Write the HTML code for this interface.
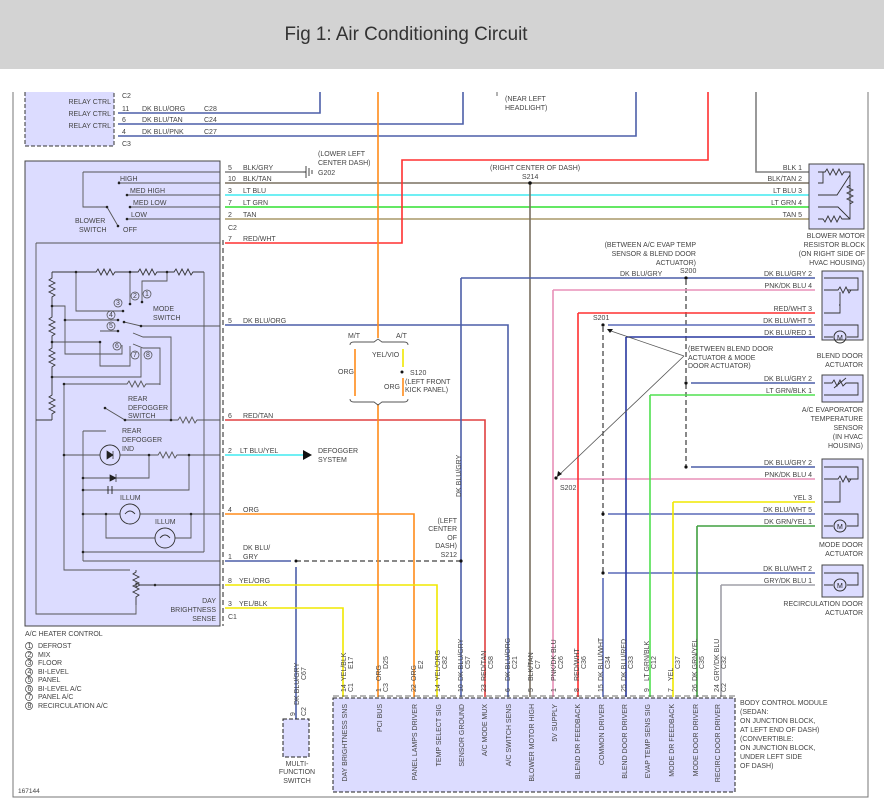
<!DOCTYPE html>
<html><head><meta charset="utf-8"><style>
html,body{margin:0;padding:0;background:#fff}
svg{display:block}
text{font-family:"Liberation Sans",sans-serif;font-size:7px;fill:#444}
.w{fill:none;stroke-width:1.6}
.g{fill:none;stroke:#555;stroke-width:0.9}
.k{fill:none;stroke:#333;stroke-width:0.9}
</style></head><body>
<svg width="884" height="812" viewBox="0 0 884 812" xmlns="http://www.w3.org/2000/svg">
<rect x="0" y="0" width="884" height="69" fill="#d3d3d3"/>
<text x="406" y="40" text-anchor="middle" style="font-size:19px;fill:#333" textLength="243" lengthAdjust="spacingAndGlyphs">Fig 1: Air Conditioning Circuit</text>
<!-- frame -->
<path d="M13,92 V797 H868 V92" fill="none" stroke="#777" stroke-width="1"/>

<!-- relay box -->
<path d="M25,92 V146 H114 V92" fill="#dcdcff" stroke="#333" stroke-dasharray="4,2"/>
<text x="111" y="104" text-anchor="end">RELAY CTRL</text>
<text x="111" y="116" text-anchor="end">RELAY CTRL</text>
<text x="111" y="128" text-anchor="end">RELAY CTRL</text>
<text x="122" y="98">C2</text><text x="122" y="146">C3</text>
<path class="w" stroke="#4c5fa8" d="M118,113 H320 V92"/>
<path class="w" stroke="#4c5fa8" d="M118,124 H463 V92"/>
<path class="w" stroke="#4c5fa8" d="M118,136 H636 V92"/>
<text x="122" y="111">11</text><text x="142" y="111">DK BLU/ORG</text><text x="204" y="111">C28</text>
<text x="122" y="122">6</text><text x="142" y="122">DK BLU/TAN</text><text x="204" y="122">C24</text>
<text x="122" y="134">4</text><text x="142" y="134">DK BLU/PNK</text><text x="204" y="134">C27</text>
<path class="g" d="M497,92 V96"/>
<text x="505" y="101">(NEAR LEFT</text><text x="505" y="110">HEADLIGHT)</text>

<!-- A/C heater control box -->
<rect x="25" y="161" width="195" height="465" fill="#dcdcff" stroke="#444" stroke-width="1"/>
<path d="M223,240 V626" stroke="#222" stroke-dasharray="5,3" fill="none"/>

<!-- top wires to right -->
<path class="w" stroke="#808080" d="M225,172 H303"/>
<path class="k" d="M306,166 V178 M309,168 V176 M312,170 V174 M303,172 H306"/>
<text x="318" y="156">(LOWER LEFT</text><text x="318" y="165">CENTER DASH)</text><text x="318" y="175">G202</text>
<path class="w" stroke="#7a7060" d="M225,183 H815"/>
<path class="w" stroke="#40eaf0" d="M225,195 H815"/>
<path class="w" stroke="#30e030" d="M225,207 H815"/>
<path class="w" stroke="#a89868" d="M225,219 H815"/>
<path class="w" stroke="#ff3030" d="M225,243 H402 V160 H708 V92"/>
<path class="w" stroke="#808080" d="M756,92 V172 H815"/>
<text x="228" y="170">5</text><text x="243" y="170">BLK/GRY</text>
<text x="228" y="181">10</text><text x="243" y="181">BLK/TAN</text>
<text x="228" y="193">3</text><text x="243" y="193">LT BLU</text>
<text x="228" y="205">7</text><text x="243" y="205">LT GRN</text>
<text x="228" y="217">2</text><text x="243" y="217">TAN</text>
<text x="228" y="230">C2</text>
<text x="228" y="241">7</text><text x="243" y="241">RED/WHT</text>
<text x="490" y="170">(RIGHT CENTER OF DASH)</text>
<text x="522" y="179">S214</text>
<path class="w" stroke="#7a7060" d="M530,183 V697"/><circle cx="530" cy="183" r="1.8" fill="#111"/>

<!-- blower resistor -->
<rect x="809" y="164" width="55" height="65" fill="#dcdcff" stroke="#444"/>
<text x="802" y="170" text-anchor="end">BLK  1</text>
<text x="802" y="181" text-anchor="end">BLK/TAN  2</text>
<text x="802" y="193" text-anchor="end">LT BLU  3</text>
<text x="802" y="205" text-anchor="end">LT GRN  4</text>
<text x="802" y="217" text-anchor="end">TAN  5</text>
<path class="k" d="M818,172 H825 l2,-3 l3,6 l3,-6 l3,6 l3,-6 l3,6 l2,-3 H850 V219 H842 l-2,-3 l-3,6 l-3,-6 l-3,6 l-3,-6 l-3,6 l-2,-3 H818 M818,183 H823 V172 M850,175 L837,195 H818 M818,207 H838 L850,219 M850,185 l-3,2 l6,3 l-6,3 l6,3 l-6,3 l6,3 l-3,2"/>
<text x="865" y="238" text-anchor="end">BLOWER MOTOR</text>
<text x="865" y="247" text-anchor="end">RESISTOR BLOCK</text>
<text x="865" y="256" text-anchor="end">(ON RIGHT SIDE OF</text>
<text x="865" y="265" text-anchor="end">HVAC HOUSING)</text>

<!-- blower switch internals -->
<path class="g" d="M83,172 H220 M83,172 V207 H107 L118,226 M119,183 V181 M119,183 H220 M127,195 H220 M130,207 H220 M127,219 H220"/>
<circle cx="119" cy="183" r="1.3" fill="#222"/><circle cx="127" cy="195" r="1.3" fill="#222"/><circle cx="130" cy="207" r="1.3" fill="#222"/><circle cx="127" cy="219" r="1.3" fill="#222"/><circle cx="107" cy="207" r="1.3" fill="#222"/><circle cx="118" cy="226" r="1.3" fill="#222"/>
<text x="120" y="181">HIGH</text><text x="130" y="193">MED HIGH</text><text x="133" y="205">MED LOW</text><text x="131" y="217">LOW</text>
<text x="75" y="223">BLOWER</text><text x="79" y="232">SWITCH</text><text x="123" y="232">OFF</text>
<path class="g" d="M36,243 H220 M36,243 V614 H136 V605"/>

<!-- mode switch internals -->
<path class="k" d="M52,272 H96 l2,-3 l3,6 l3,-6 l3,6 l3,-6 l3,6 l2,-3 H138 l2,-3 l3,6 l3,-6 l3,6 l3,-6 l3,6 l2,-3 H174 l2,-3 l3,6 l3,-6 l3,6 l3,-6 l3,6 l2,-3 H204"/>
<path class="g" d="M204,272 V552 M76,272 V311 H123 M130,272 V304 M142,302 V281 H167 V272"/>
<path class="k" d="M52,272 V278 l-3,2 l6,3 l-6,3 l6,3 l-6,3 l6,3 l-3,2 V317 l-3,2 l6,3 l-6,3 l6,3 l-6,3 l6,3 l-3,2 V348 l-3,2 l6,3 l-6,3 l6,3 l-6,3 l6,3 l-3,2 V395 l-3,2 l6,3 l-6,3 l6,3 l-6,3 l6,3 l-3,2 V420 M52,420 H36"/>
<path class="g" d="M52,306 H65 V354 H122 V345 M65,320 H118 M124,322 L141,326 H220 M52,342 H100 V366 H130 V346 M100,331 H118 M133,333 L143,337 H171 V420 M133,344 L143,348 H160 V385 M52,377 H141 V348 M64,384 H127 l2,-3 l3,6 l3,-6 l3,6 l3,-6 l3,6 l2,-3 H160 M64,384 V570 H130"/>
<g fill="#222"><circle cx="76" cy="272" r="1.3"/><circle cx="130" cy="272" r="1.3"/><circle cx="167" cy="272" r="1.3"/><circle cx="52" cy="306" r="1.3"/><circle cx="52" cy="342" r="1.3"/><circle cx="52" cy="377" r="1.3"/><circle cx="65" cy="320" r="1.3"/><circle cx="124" cy="322" r="1.3"/><circle cx="141" cy="326" r="1.3"/><circle cx="130" cy="304" r="1.3"/><circle cx="142" cy="302" r="1.3"/><circle cx="123" cy="311" r="1.3"/><circle cx="118" cy="320" r="1.3"/><circle cx="118" cy="331" r="1.3"/><circle cx="100" cy="342" r="1.3"/><circle cx="64" cy="384" r="1.3"/></g>
<g fill="none" stroke="#444" stroke-width="0.7"><circle cx="135" cy="296" r="4"/><circle cx="147" cy="294" r="4"/><circle cx="118" cy="303" r="4"/><circle cx="111" cy="315" r="4"/><circle cx="111" cy="326" r="4"/><circle cx="117" cy="346" r="4"/><circle cx="135" cy="355" r="4"/><circle cx="148" cy="355" r="4"/></g>
<g style="font-size:6px"><text x="133" y="298">2</text><text x="145" y="296">1</text><text x="116" y="305">3</text><text x="109" y="317">4</text><text x="109" y="328">5</text><text x="115" y="348">6</text><text x="133" y="357">7</text><text x="146" y="357">8</text></g>
<text x="153" y="311">MODE</text><text x="153" y="320">SWITCH</text>
<text x="228" y="323">5</text><text x="243" y="323">DK BLU/ORG</text>
<path class="w" stroke="#4c5fa8" d="M225,325 H508 V697"/>

<!-- rear defogger -->
<path class="g" d="M105,408 L125,420 H178 l2,-3 l3,6 l3,-6 l3,6 l3,-6 l3,6 l2,-3 H220"/>
<circle cx="105" cy="408" r="1.3" fill="#222"/><circle cx="125" cy="420" r="1.3" fill="#222"/><circle cx="171" cy="420" r="1.3" fill="#222"/>
<text x="128" y="401">REAR</text><text x="128" y="410">DEFOGGER</text><text x="128" y="418">SWITCH</text>
<text x="122" y="433">REAR</text><text x="122" y="442">DEFOGGER</text><text x="122" y="451">IND</text>
<path class="g" d="M83,431 H106 M83,431 V561 M64,455 H100 M120,455 H158 l2,-3 l3,6 l3,-6 l3,6 l3,-6 l3,6 l2,-3 H220 M149,455 V478 H83 M189,455 V490 H83 M83,514 H120 M140,514 H220 M106,514 V538 H155 M175,538 H191 V514 M83,552 H204 M83,561 H220"/>
<circle cx="110" cy="455" r="10" fill="none" stroke="#333" stroke-width="0.9"/>
<path d="M107,451 L113,455 L107,459Z M113,451 V459" fill="#222" stroke="#222" stroke-width="0.7"/>
<path d="M110,475 L116,478 L110,481Z M116,474 V482" fill="#222" stroke="#222" stroke-width="0.7"/>
<path d="M108,486 V494 M112,486 V494" stroke="#222" stroke-width="0.9"/>
<circle cx="130" cy="514" r="10" fill="#dcdcff" stroke="#333" stroke-width="0.9"/>
<circle cx="165" cy="538" r="10" fill="#dcdcff" stroke="#333" stroke-width="0.9"/>
<path class="k" d="M125,514 q5,-6 10,0 M160,538 q5,-6 10,0"/>
<text x="120" y="500">ILLUM</text><text x="155" y="524">ILLUM</text>
<g fill="#222"><circle cx="64" cy="455" r="1.3"/><circle cx="149" cy="455" r="1.3"/><circle cx="189" cy="455" r="1.3"/><circle cx="83" cy="478" r="1.3"/><circle cx="83" cy="490" r="1.3"/><circle cx="83" cy="514" r="1.3"/><circle cx="106" cy="514" r="1.3"/><circle cx="191" cy="514" r="1.3"/><circle cx="83" cy="552" r="1.3"/><circle cx="155" cy="585" r="1.3"/></g>
<path class="k" d="M136,570 V572 l-3,2 l6,3 l-6,3 l6,3 l-6,3 l6,3 l-6,3 l6,3 l-3,2 V605 M140,585 H220 M140,585 l-4,-2 v4z"/>
<text x="216" y="603" text-anchor="end">DAY</text><text x="216" y="612" text-anchor="end">BRIGHTNESS</text><text x="216" y="621" text-anchor="end">SENSE</text>
<text x="228" y="619">C1</text>

<!-- left lower wires -->
<path class="w" stroke="#e04040" d="M225,420 H485 V697"/>
<text x="228" y="418">6</text><text x="243" y="418">RED/TAN</text>
<path class="w" stroke="#40eaf0" d="M225,455 H303"/><path d="M303,450 L312,455 L303,460Z" fill="#111"/>
<text x="228" y="453">2</text><text x="240" y="453">LT BLU/YEL</text>
<text x="318" y="453">DEFOGGER</text><text x="318" y="462">SYSTEM</text>
<path class="w" stroke="#ff8c1a" d="M225,514 H414 V697"/>
<text x="228" y="512">4</text><text x="243" y="512">ORG</text>
<path class="w" stroke="#4c5fa8" d="M225,561 H291"/>
<path d="M296,561 H461" stroke="#111" stroke-dasharray="5,3" fill="none"/>
<circle cx="296" cy="561" r="1.5" fill="#111"/>
<path class="w" stroke="#4c5fa8" d="M296,567 V719"/>
<text x="228" y="559">1</text><text x="243" y="550">DK BLU/</text><text x="243" y="559">GRY</text>
<path class="w" stroke="#f0e800" d="M225,585 H437 V697"/>
<text x="228" y="583">8</text><text x="239" y="583">YEL/ORG</text>
<path class="w" stroke="#f0e800" d="M225,608 H343 V697"/>
<text x="228" y="606">3</text><text x="239" y="606">YEL/BLK</text>

<!-- PCI bus orange with bracket -->
<path class="w" stroke="#ff8c1a" d="M378,92 V338 M378,404 V697 M355,349 V396 M403,378 V396"/>
<path class="w" stroke="#f0e800" d="M403,349 V367"/>
<path class="g" d="M350,345 q0,-3 4,-3 H374 l4,-3 l4,3 H404 q4,0 4,3 M350,399 q0,3 4,3 H374 l4,3 l4,-3 H404 q4,0 4,-3"/>
<text x="348" y="338">M/T</text><text x="396" y="338">A/T</text>
<text x="372" y="357">YEL/VIO</text><text x="338" y="374">ORG</text><text x="384" y="389">ORG</text>
<circle cx="402" cy="372" r="1.5" fill="#111"/>
<text x="410" y="375">S120</text><text x="405" y="384">(LEFT FRONT</text><text x="405" y="392">KICK PANEL)</text>

<!-- DK BLU/GRY sensor ground -->
<path class="w" stroke="#4c5fa8" d="M461,278 V697 M461,278 H815"/>
<circle cx="461" cy="561" r="1.6" fill="#111"/>
<text transform="translate(461,497) rotate(-90)">DK BLU/GRY</text>
<text x="457" y="523" text-anchor="end">(LEFT</text><text x="457" y="531" text-anchor="end">CENTER</text><text x="457" y="540" text-anchor="end">OF</text><text x="457" y="548" text-anchor="end">DASH)</text><text x="457" y="557" text-anchor="end">S212</text>

<!-- right side -->
<text x="696" y="247" text-anchor="end">(BETWEEN A/C EVAP TEMP</text>
<text x="696" y="256" text-anchor="end">SENSOR &amp; BLEND DOOR</text>
<text x="696" y="265" text-anchor="end">ACTUATOR)</text>
<text x="680" y="273">S200</text><circle cx="686" cy="278" r="1.6" fill="#111"/>
<text x="620" y="276">DK BLU/GRY</text>
<path d="M686,280 V467" stroke="#111" stroke-dasharray="5,3" fill="none"/>
<path class="w" stroke="#e890b8" d="M553,290 H815 M553,290 V697 M560,479 H815"/>
<path class="w" stroke="#ff3030" d="M578,313 H815 M578,313 V697"/>
<path class="w" stroke="#5a6ab8" d="M608,325 H815 M608,514 H815 M608,573 H815 M603,578 V697"/>
<path d="M603,327 V573" stroke="#111" stroke-dasharray="5,3" fill="none"/>
<circle cx="603" cy="325" r="1.6" fill="#111"/><circle cx="603" cy="514" r="1.6" fill="#111"/><circle cx="603" cy="573" r="1.6" fill="#111"/>
<text x="593" y="320">S201</text>
<path class="w" stroke="#2838a0" d="M626,337 H815 M626,337 V697"/>
<path class="w" stroke="#4c5fa8" d="M691,383 H815 M691,467 H815"/>
<circle cx="686" cy="383" r="1.6" fill="#111"/><circle cx="686" cy="467" r="1.6" fill="#111"/>
<path class="w" stroke="#50e050" d="M650,395 H815 M650,395 V697"/>
<path class="w" stroke="#f0e800" d="M673,502 H815 M673,502 V697"/>
<path class="w" stroke="#40a040" d="M697,526 H815 M697,526 V697"/>
<path class="w" stroke="#a0a0a8" d="M721,585 H815 M721,585 V697"/>
<path d="M684,356 L608,330 M684,356 L558,476" stroke="#555" stroke-width="0.8" fill="none"/>
<path d="M607,329 l6,0 l-3,4z M557,477 l1,-6 l4,3z" fill="#111"/>
<text x="688" y="351">(BETWEEN BLEND DOOR</text><text x="688" y="360">ACTUATOR &amp; MODE</text><text x="688" y="368">DOOR ACTUATOR)</text>
<circle cx="556" cy="478" r="1.6" fill="#111"/><text x="560" y="490">S202</text>

<!-- blend door actuator -->
<rect x="822" y="271" width="41" height="69" fill="#dcdcff" stroke="#444"/>
<text x="812" y="276" text-anchor="end">DK BLU/GRY  2</text>
<text x="812" y="288" text-anchor="end">PNK/DK BLU  4</text>
<text x="812" y="311" text-anchor="end">RED/WHT  3</text>
<text x="812" y="323" text-anchor="end">DK BLU/WHT  5</text>
<text x="812" y="335" text-anchor="end">DK BLU/RED  1</text>
<path class="k" d="M824,278 H858 V290 H848 M824,290 H838 l2,-3 l3,6 l3,-6 l3,6 l2,-3 M840,292 V305 H839 M824,313 H840 V305 M824,325 H858 V337 H847 M824,337 H833"/>
<circle cx="840" cy="337" r="6" fill="none" stroke="#333"/><text x="837" y="340" style="font-size:7px;fill:#222">M</text>
<text x="863" y="358" text-anchor="end">BLEND DOOR</text><text x="863" y="367" text-anchor="end">ACTUATOR</text>

<!-- evap sensor -->
<rect x="822" y="375" width="41" height="27" fill="#dcdcff" stroke="#444"/>
<text x="812" y="381" text-anchor="end">DK BLU/GRY  2</text>
<text x="812" y="393" text-anchor="end">LT GRN/BLK  1</text>
<path class="k" d="M824,383 H832 l2,-3 l3,6 l3,-6 l3,6 l3,-3 H858 V395 H824 M834,388 L846,378"/>
<text x="863" y="412" text-anchor="end">A/C EVAPORATOR</text><text x="863" y="421" text-anchor="end">TEMPERATURE</text><text x="863" y="430" text-anchor="end">SENSOR</text><text x="863" y="439" text-anchor="end">(IN HVAC</text><text x="863" y="448" text-anchor="end">HOUSING)</text>

<!-- mode door -->
<rect x="822" y="459" width="41" height="79" fill="#dcdcff" stroke="#444"/>
<text x="812" y="465" text-anchor="end">DK BLU/GRY  2</text>
<text x="812" y="477" text-anchor="end">PNK/DK BLU  4</text>
<text x="812" y="500" text-anchor="end">YEL  3</text>
<text x="812" y="512" text-anchor="end">DK BLU/WHT  5</text>
<text x="812" y="524" text-anchor="end">DK GRN/YEL  1</text>
<path class="k" d="M824,467 H858 V479 H848 M824,479 H838 l2,-3 l3,6 l3,-6 l3,6 l2,-3 M840,481 V502 H824 M824,514 H858 V526 H847 M824,526 H833"/>
<circle cx="840" cy="526" r="6" fill="none" stroke="#333"/><text x="837" y="529" style="fill:#222">M</text>
<text x="863" y="547" text-anchor="end">MODE DOOR</text><text x="863" y="556" text-anchor="end">ACTUATOR</text>

<!-- recirc door -->
<rect x="822" y="565" width="41" height="32" fill="#dcdcff" stroke="#444"/>
<text x="812" y="571" text-anchor="end">DK BLU/WHT  2</text>
<text x="812" y="583" text-anchor="end">GRY/DK BLU  1</text>
<path class="k" d="M824,573 H858 V585 H847 M824,585 H833"/>
<circle cx="840" cy="585" r="6" fill="none" stroke="#333"/><text x="837" y="588" style="fill:#222">M</text>
<text x="863" y="606" text-anchor="end">RECIRCULATION DOOR</text><text x="863" y="615" text-anchor="end">ACTUATOR</text>

<!-- legend -->
<text x="25" y="636">A/C HEATER CONTROL</text>
<g fill="none" stroke="#444" stroke-width="0.7"><circle cx="29" cy="646" r="3.5"/><circle cx="29" cy="655" r="3.5"/><circle cx="29" cy="663" r="3.5"/><circle cx="29" cy="672" r="3.5"/><circle cx="29" cy="680" r="3.5"/><circle cx="29" cy="689" r="3.5"/><circle cx="29" cy="697" r="3.5"/><circle cx="29" cy="706" r="3.5"/></g>
<g style="font-size:5px"><text x="27.5" y="648">1</text><text x="27.5" y="657">2</text><text x="27.5" y="665">3</text><text x="27.5" y="674">4</text><text x="27.5" y="682">5</text><text x="27.5" y="691">6</text><text x="27.5" y="699">7</text><text x="27.5" y="708">8</text></g>
<text x="38" y="648">DEFROST</text><text x="38" y="657">MIX</text><text x="38" y="665">FLOOR</text><text x="38" y="674">BI-LEVEL</text><text x="38" y="682">PANEL</text><text x="38" y="691">BI-LEVEL A/C</text><text x="38" y="699">PANEL A/C</text><text x="38" y="708">RECIRCULATION A/C</text>
<text x="18" y="793" style="font-size:6.5px">167144</text>

<!-- multi-function switch -->
<rect x="283" y="719" width="26" height="38" fill="#dcdcff" stroke="#222" stroke-dasharray="4,2"/>
<text transform="translate(299,705) rotate(-90)">DK BLU/GRY</text>
<text transform="translate(306,680) rotate(-90)">C67</text>
<text transform="translate(295,716) rotate(-90)">9</text>
<text transform="translate(306,716) rotate(-90)">C2</text>
<text x="297" y="766" text-anchor="middle">MULTI-</text><text x="297" y="774" text-anchor="middle">FUNCTION</text><text x="297" y="783" text-anchor="middle">SWITCH</text>

<!-- BCM -->
<rect x="333" y="698" width="402" height="94" fill="#dcdcff" stroke="#222" stroke-dasharray="4,2"/>
<path d="M333,696 H735" stroke="#444" stroke-dasharray="6,3" fill="none" stroke-width="0.8"/>
<g>
<text transform="translate(346,692) rotate(-90)">14</text><text transform="translate(346,681) rotate(-90)">YEL/BLK</text><text transform="translate(353,669) rotate(-90)">E17</text><text transform="translate(353,692) rotate(-90)">C1</text><text transform="translate(347,704) rotate(-90)" text-anchor="end">DAY BRIGHTNESS SNS</text>
<text transform="translate(381,692) rotate(-90)">1</text><text transform="translate(381,681) rotate(-90)">ORG</text><text transform="translate(388,669) rotate(-90)">D25</text><text transform="translate(388,692) rotate(-90)">C3</text><text transform="translate(382,704) rotate(-90)" text-anchor="end">PCI BUS</text>
<text transform="translate(416,692) rotate(-90)">22</text><text transform="translate(416,681) rotate(-90)">ORG</text><text transform="translate(423,669) rotate(-90)">E2</text><text transform="translate(417,704) rotate(-90)" text-anchor="end">PANEL LAMPS DRIVER</text>
<text transform="translate(440,692) rotate(-90)">14</text><text transform="translate(440,681) rotate(-90)">YEL/ORG</text><text transform="translate(447,669) rotate(-90)">C82</text><text transform="translate(441,704) rotate(-90)" text-anchor="end">TEMP SELECT SIG</text>
<text transform="translate(463,692) rotate(-90)">10</text><text transform="translate(463,681) rotate(-90)">DK BLU/GRY</text><text transform="translate(470,669) rotate(-90)">C57</text><text transform="translate(464,704) rotate(-90)" text-anchor="end">SENSOR GROUND</text>
<text transform="translate(486,692) rotate(-90)">23</text><text transform="translate(486,681) rotate(-90)">RED/TAN</text><text transform="translate(493,669) rotate(-90)">C58</text><text transform="translate(487,704) rotate(-90)" text-anchor="end">A/C MODE MUX</text>
<text transform="translate(510,692) rotate(-90)">6</text><text transform="translate(510,681) rotate(-90)">DK BLU/ORG</text><text transform="translate(517,669) rotate(-90)">C21</text><text transform="translate(511,704) rotate(-90)" text-anchor="end">A/C SWITCH SENS</text>
<text transform="translate(533,692) rotate(-90)">5</text><text transform="translate(533,681) rotate(-90)">BLK/TAN</text><text transform="translate(540,669) rotate(-90)">C7</text><text transform="translate(534,704) rotate(-90)" text-anchor="end">BLOWER MOTOR HIGH</text>
<text transform="translate(556,692) rotate(-90)">1</text><text transform="translate(556,681) rotate(-90)">PNK/DK BLU</text><text transform="translate(563,669) rotate(-90)">C26</text><text transform="translate(557,704) rotate(-90)" text-anchor="end">5V SUPPLY</text>
<text transform="translate(579,692) rotate(-90)">8</text><text transform="translate(579,681) rotate(-90)">RED/WHT</text><text transform="translate(586,669) rotate(-90)">C36</text><text transform="translate(580,704) rotate(-90)" text-anchor="end">BLEND DR FEEDBACK</text>
<text transform="translate(603,692) rotate(-90)">15</text><text transform="translate(603,681) rotate(-90)">DK BLU/WHT</text><text transform="translate(610,669) rotate(-90)">C34</text><text transform="translate(604,704) rotate(-90)" text-anchor="end">COMMON DRIVER</text>
<text transform="translate(626,692) rotate(-90)">25</text><text transform="translate(626,681) rotate(-90)">DK BLU/RED</text><text transform="translate(633,669) rotate(-90)">C33</text><text transform="translate(627,704) rotate(-90)" text-anchor="end">BLEND DOOR DRIVER</text>
<text transform="translate(649,692) rotate(-90)">9</text><text transform="translate(649,681) rotate(-90)">LT GRN/BLK</text><text transform="translate(656,669) rotate(-90)">C12</text><text transform="translate(650,704) rotate(-90)" text-anchor="end">EVAP TEMP SENS SIG</text>
<text transform="translate(673,692) rotate(-90)">7</text><text transform="translate(673,681) rotate(-90)">YEL</text><text transform="translate(680,669) rotate(-90)">C37</text><text transform="translate(674,704) rotate(-90)" text-anchor="end">MODE DR FEEDBACK</text>
<text transform="translate(697,692) rotate(-90)">26</text><text transform="translate(697,681) rotate(-90)">DK GRN/YEL</text><text transform="translate(704,669) rotate(-90)">C35</text><text transform="translate(698,704) rotate(-90)" text-anchor="end">MODE DOOR DRIVER</text>
<text transform="translate(719,692) rotate(-90)">24</text><text transform="translate(719,681) rotate(-90)">GRY/DK BLU</text><text transform="translate(726,669) rotate(-90)">C32</text><text transform="translate(726,692) rotate(-90)">C2</text><text transform="translate(720,704) rotate(-90)" text-anchor="end">RECIRC DOOR DRIVER</text>
</g>
<text x="740" y="705">BODY CONTROL MODULE</text><text x="740" y="714">(SEDAN:</text><text x="740" y="723">ON JUNCTION BLOCK,</text><text x="740" y="732">AT LEFT END OF DASH)</text><text x="740" y="741">(CONVERTIBLE:</text><text x="740" y="750">ON JUNCTION BLOCK,</text><text x="740" y="759">UNDER LEFT SIDE</text><text x="740" y="768">OF DASH)</text>
</svg>
</body></html>
